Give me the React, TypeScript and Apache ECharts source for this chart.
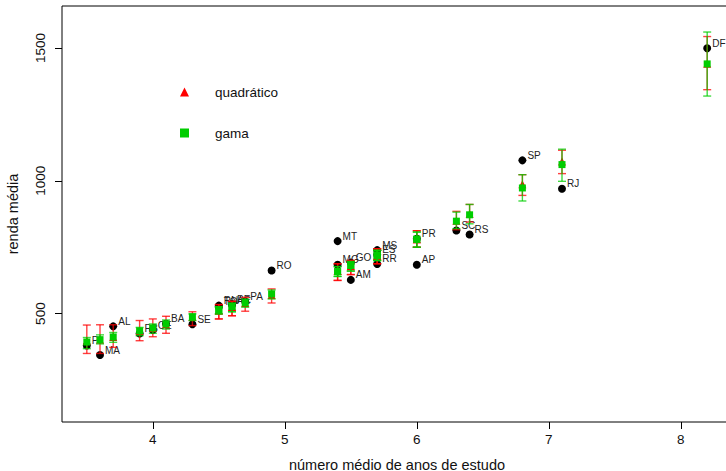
import React, { useEffect, useRef } from "react";
import * as echarts from "echarts";

const states = ["PI","MA","AL","PB","CE","BA","SE","RN","TO","PE","AC","PA","RO","MT","MG","GO","AM","MS","ES","RR","PR","AP","SC","RS","SP","RJ","DF"];
const schooling = [3.5,3.6,3.7,3.9,4.0,4.1,4.3,4.5,4.5,4.6,4.6,4.7,4.9,5.4,5.4,5.5,5.5,5.7,5.7,5.7,6.0,6.0,6.3,6.4,6.8,7.1,8.2];
const income = [380,344,452,425,438,462,460,530,525,536,532,546,662,773,684,692,627,739,722,687,782,684,813,798,1077,970,1499];

const quadFit = [398,402,412,435,446,460,487,512,512,525,525,540,570,660,660,678,678,718,718,718,780,780,850,875,987,1073,1441];
const quadLow = [350,350,373,398,413,426,455,480,480,492,492,509,540,625,625,647,647,688,688,688,750,750,816,845,945,1027,1343];
const quadHigh = [457,458,458,474,480,490,507,534,534,546,546,561,593,688,688,700,700,744,744,744,812,812,885,911,1023,1115,1543];

const gamaFit = [393,402,412,435,446,461,488,515,515,527,527,541,574,658,658,681,681,720,720,720,780,780,848,872,973,1061,1440];
const gamaLow = [368,386,392,417,426,442,474,499,499,507,507,524,555,640,640,660,660,700,700,700,750,750,820,838,924,998,1319];
const gamaHigh = [410,420,429,448,461,476,499,526,526,539,539,555,589,677,677,696,696,738,738,738,807,807,882,911,1023,1119,1560];

const xTicks = [4, 5, 6, 7, 8];
const yTicks = [500, 1000, 1500];

const FONT = "'Liberation Sans', Arial, Helvetica, sans-serif";

function errorBarRender(color: string) {
  return (params: any, api: any) => {
    const x = api.value(0);
    const lo = api.coord([x, api.value(1)]);
    const hi = api.coord([x, api.value(2)]);
    const hw = 4;
    const style = { stroke: color, lineWidth: 1.4 };
    return {
      type: "group",
      children: [
        { type: "line", shape: { x1: lo[0], y1: lo[1], x2: hi[0], y2: hi[1] }, style },
        { type: "line", shape: { x1: lo[0] - hw, y1: lo[1], x2: lo[0] + hw, y2: lo[1] }, style },
        { type: "line", shape: { x1: hi[0] - hw, y1: hi[1], x2: hi[0] + hw, y2: hi[1] }, style },
      ],
    };
  };
}

export default function App() {
  const ref = useRef<HTMLDivElement>(null);
  useEffect(() => {
    document.body.style.margin = "0";
    if (!ref.current) return;
    const chart = echarts.init(ref.current, undefined, { renderer: "svg" });
    const obsData = states.map((s, i) => ({ name: s, value: [schooling[i], income[i]] }));
    const quadPts = schooling.map((x, i) => [x, quadFit[i]]);
    const gamaPts = schooling.map((x, i) => [x, gamaFit[i]]);
    const quadBars = schooling.map((x, i) => [x, quadLow[i], quadHigh[i]]);
    const gamaBars = schooling.map((x, i) => [x, gamaLow[i], gamaHigh[i]]);
    chart.setOption({
      animation: false,
      backgroundColor: "#fff",
      textStyle: { fontFamily: FONT },
      grid: {
        left: 62,
        top: 6,
        width: 670,
        height: 416,
        show: true,
        borderColor: "#000",
        borderWidth: 1,
        backgroundColor: "transparent",
        containLabel: false,
        outerBoundsMode: "none",
      },
      legend: {
        left: 175,
        top: 80,
        orient: "vertical",
        itemWidth: 9,
        itemHeight: 9,
        itemGap: 27,
        data: [
          { name: "quadrático", icon: "triangle", itemStyle: { color: "#ff0000" } },
          { name: "gama", icon: "rect", itemStyle: { color: "#00cd00" } },
        ],
        textStyle: { fontSize: 13.5, color: "#111", fontFamily: FONT, padding: [0, 0, 0, 21], lineHeight: 14 },
        selectedMode: false,
      },
      xAxis: {
        type: "value",
        min: 3.312,
        max: 8.388,
        splitLine: { show: false },
        axisLine: { show: false },
        axisTick: { show: true, length: 7, inside: false, lineStyle: { color: "#000" }, customValues: xTicks },
        axisLabel: { fontSize: 13.5, color: "#111", margin: 10, fontFamily: FONT, customValues: xTicks, formatter: (v: number) => String(v) },
        name: "número médio de anos de estudo",
        nameLocation: "middle",
        nameGap: 35,
        nameTextStyle: { fontSize: 14.5, color: "#111", fontFamily: FONT },
      },
      yAxis: {
        type: "value",
        min: 92,
        max: 1658,
        splitLine: { show: false },
        axisLine: { show: false },
        axisTick: { show: true, length: 7, inside: false, lineStyle: { color: "#000" }, customValues: yTicks },
        axisLabel: { fontSize: 13.5, color: "#111", margin: 15, rotate: 90, fontFamily: FONT, customValues: yTicks, formatter: (v: number) => String(v) },
        name: "renda média",
        nameLocation: "middle",
        nameGap: 42,
        nameRotate: 90,
        nameTextStyle: { fontSize: 14.5, color: "#111", fontFamily: FONT },
      },
      series: [
        {
          name: "observado",
          type: "scatter",
          symbol: "circle",
          symbolSize: 8,
          itemStyle: { color: "#000", opacity: 1 },
          data: obsData,
          label: {
            show: true,
            position: "right",
            distance: 1,
            offset: [0, -5],
            formatter: (p: any) => p.name,
            fontSize: 10,
            color: "#222",
            fontFamily: FONT,
          },
          z: 2,
        },
        {
          name: "quadrático IC",
          type: "custom",
          renderItem: errorBarRender("rgba(255,0,0,0.75)"),
          data: quadBars,
          z: 3,
        },
        {
          name: "quadrático",
          type: "scatter",
          symbol: "triangle",
          symbolSize: 8,
          itemStyle: { color: "#ff0000", opacity: 1 },
          data: quadPts,
          z: 4,
        },
        {
          name: "gama IC",
          type: "custom",
          renderItem: errorBarRender("rgba(0,205,0,0.75)"),
          data: gamaBars,
          z: 5,
        },
        {
          name: "gama",
          type: "scatter",
          symbol: "rect",
          symbolSize: 7,
          itemStyle: { color: "#00cd00", opacity: 1 },
          data: gamaPts,
          z: 6,
        },
      ],
    });
    return () => chart.dispose();
  }, []);
  return <div ref={ref} style={{ width: 726, height: 471, position: "absolute", left: 0, top: 0 }} />;
}
